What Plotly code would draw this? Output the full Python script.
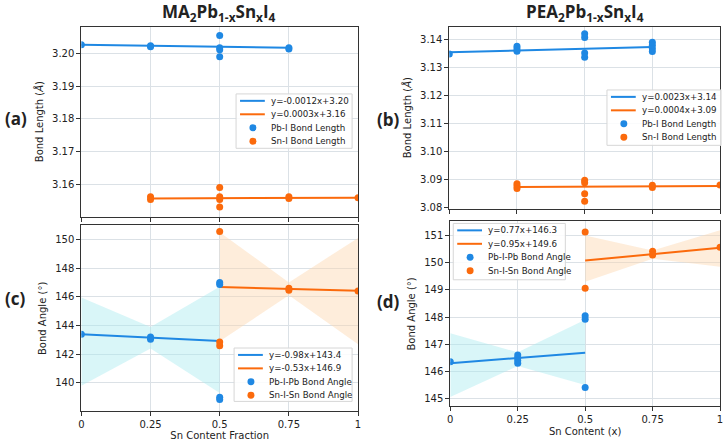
import plotly.graph_objects as go

W, H = 728, 441
BLUE = "#1f88e3"
ORANGE = "#fb6a0c"
BAND_BLUE = "rgba(170,235,240,0.45)"
BAND_ORANGE = "rgba(253,215,175,0.45)"

# ---- (a) MA bond lengths
a_pb_x = [0, 0.25, 0.25, 0.5, 0.5, 0.5, 0.5, 0.75, 0.75]
a_pb_y = [3.2025, 3.2022, 3.2019, 3.2053, 3.2016, 3.2010, 3.1989, 3.2016, 3.2012]
a_sn_x = [0.25, 0.25, 0.5, 0.5, 0.5, 0.5, 0.75, 0.75, 1]
a_sn_y = [3.1564, 3.1556, 3.1592, 3.1564, 3.1556, 3.1533, 3.1564, 3.1559, 3.1561]
a_fit_pb_x, a_fit_pb_y = [0, 0.75], [3.2025, 3.2016]
a_fit_sn_x, a_fit_sn_y = [0.25, 1], [3.1559, 3.1561]

# ---- (b) PEA bond lengths
b_pb_x = [0, 0.25, 0.25, 0.25, 0.5, 0.5, 0.5, 0.5, 0.75, 0.75, 0.75, 0.75]
b_pb_y = [3.1349, 3.1377, 3.1368, 3.1359, 3.1422, 3.1408, 3.1353, 3.1338, 3.1391, 3.1381, 3.1369, 3.1358]
b_sn_x = [0.25, 0.25, 0.25, 0.5, 0.5, 0.5, 0.5, 0.75, 0.75, 1]
b_sn_y = [3.0886, 3.0878, 3.0869, 3.0898, 3.0889, 3.0850, 3.0823, 3.0880, 3.0872, 3.0881]
b_fit_pb_x, b_fit_pb_y = [0, 0.75], [3.1356, 3.1374]
b_fit_sn_x, b_fit_sn_y = [0.25, 1], [3.0874, 3.0878]

# ---- (c) MA bond angles
c_pb_x = [0, 0.25, 0.25, 0.5, 0.5, 0.5, 0.5]
c_pb_y = [143.4, 143.2, 143.05, 147.0, 146.85, 139.0, 138.85]
c_sn_x = [0.5, 0.5, 0.5, 0.75, 0.75, 1]
c_sn_y = [150.55, 142.85, 142.6, 146.6, 146.45, 146.4]
c_fit_pb_x, c_fit_pb_y = [0, 0.5], [143.4, 142.92]
c_fit_sn_x, c_fit_sn_y = [0.5, 1], [146.68, 146.42]
c_band_pb_x = [0, 0.25, 0.5]
c_band_pb_hi = [145.95, 143.9, 146.7]
c_band_pb_lo = [139.8, 142.4, 139.3]
c_band_sn_x = [0.5, 0.75, 1]
c_band_sn_hi = [150.5, 147.0, 150.1]
c_band_sn_lo = [142.9, 146.1, 142.7]

# ---- (d) PEA bond angles
d_pb_x = [0, 0.25, 0.25, 0.25, 0.25, 0.5, 0.5, 0.5]
d_pb_y = [146.35, 146.6, 146.5, 146.4, 146.3, 148.05, 147.92, 145.4]
d_sn_x = [0.5, 0.5, 0.75, 0.75, 1]
d_sn_y = [151.13, 149.06, 150.42, 150.28, 150.57]
d_fit_pb_x, d_fit_pb_y = [0, 0.5], [146.3, 146.68]
d_fit_sn_x, d_fit_sn_y = [0.5, 1], [150.08, 150.55]
d_band_pb_x = [0, 0.25, 0.5]
d_band_pb_hi = [147.4, 146.7, 147.9]
d_band_pb_lo = [145.05, 146.2, 145.5]
d_band_sn_x = [0.5, 0.75, 1]
d_band_sn_hi = [151.0, 150.45, 151.2]
d_band_sn_lo = [149.3, 150.15, 149.85]

x_ticks = [0, 0.25, 0.5, 0.75, 1]
x_ticktext = ["0", "0.25", "0.5", "0.75", "1"]

panels = {
    "a": dict(xa="x", ya="y", box=(235, 95, 117, 55),
              fits=[("y=-0.0012x+3.20", a_fit_pb_x, a_fit_pb_y, BLUE), ("y=0.0003x+3.16", a_fit_sn_x, a_fit_sn_y, ORANGE)],
              pts=[("Pb-I Bond Length", a_pb_x, a_pb_y, BLUE), ("Sn-I Bond Length", a_sn_x, a_sn_y, ORANGE)],
              bands=[]),
    "b": dict(xa="x2", ya="y2", box=(609, 91, 115, 56),
              fits=[("y=0.0023x+3.14", b_fit_pb_x, b_fit_pb_y, BLUE), ("y=0.0004x+3.09", b_fit_sn_x, b_fit_sn_y, ORANGE)],
              pts=[("Pb-I Bond Length", b_pb_x, b_pb_y, BLUE), ("Sn-I Bond Length", b_sn_x, b_sn_y, ORANGE)],
              bands=[]),
    "c": dict(xa="x3", ya="y3", box=(233, 352, 119, 54),
              fits=[("y=-0.98x+143.4", c_fit_pb_x, c_fit_pb_y, BLUE), ("y=-0.53x+146.9", c_fit_sn_x, c_fit_sn_y, ORANGE)],
              pts=[("Pb-I-Pb Bond Angle", c_pb_x, c_pb_y, BLUE), ("Sn-I-Sn Bond Angle", c_sn_x, c_sn_y, ORANGE)],
              bands=[(c_band_pb_x, c_band_pb_hi, c_band_pb_lo, BAND_BLUE), (c_band_sn_x, c_band_sn_hi, c_band_sn_lo, BAND_ORANGE)]),
    "d": dict(xa="x4", ya="y4", box=(454, 226, 113, 57),
              fits=[("y=0.77x+146.3", d_fit_pb_x, d_fit_pb_y, BLUE), ("y=0.95x+149.6", d_fit_sn_x, d_fit_sn_y, ORANGE)],
              pts=[("Pb-I-Pb Bond Angle", d_pb_x, d_pb_y, BLUE), ("Sn-I-Sn Bond Angle", d_sn_x, d_sn_y, ORANGE)],
              bands=[(d_band_pb_x, d_band_pb_hi, d_band_pb_lo, BAND_BLUE), (d_band_sn_x, d_band_sn_hi, d_band_sn_lo, BAND_ORANGE)]),
}


def fx(px):
    return px / W


def fy(py):
    return 1 - py / H


fig = go.Figure()
for key, p in panels.items():
    # confidence bands first so they sit underneath
    for bx, hi, lo, col in p["bands"]:
        fig.add_trace(go.Scatter(x=bx + bx[::-1], y=hi + lo[::-1], fill="toself", fillcolor=col,
                                 line=dict(width=0), mode="lines", showlegend=False, hoverinfo="skip",
                                 xaxis=p["xa"], yaxis=p["ya"]))
    for name, lx, ly, col in p["fits"]:
        fig.add_trace(go.Scatter(x=lx, y=ly, mode="lines", name=name, line=dict(color=col, width=2),
                                 showlegend=False, xaxis=p["xa"], yaxis=p["ya"]))
    for name, sx, sy, col in p["pts"]:
        fig.add_trace(go.Scatter(x=sx, y=sy, mode="markers", name=name,
                                 marker=dict(color=col, size=7, line=dict(width=0)),
                                 showlegend=False, xaxis=p["xa"], yaxis=p["ya"]))

    # matplotlib-style legend box drawn by hand (plotly rows are too tall)
    L, T, BW, BH = p["box"]
    fig.add_shape(type="rect", xref="paper", yref="paper", x0=fx(L), x1=fx(L + BW), y0=fy(T + BH), y1=fy(T),
                  fillcolor="rgba(255,255,255,0.85)", line=dict(color="#d6d6d6", width=1), layer="above")
    entries = [(n, c, "line") for n, _, _, c in p["fits"]] + [(n, c, "dot") for n, _, _, c in p["pts"]]
    for i, (name, col, kind) in enumerate(entries):
        ry = T + 7 + i * 13.6
        if kind == "line":
            fig.add_shape(type="line", xref="paper", yref="paper", x0=fx(L + 4), x1=fx(L + 29),
                          y0=fy(ry), y1=fy(ry), line=dict(color=col, width=2), layer="above")
        else:
            fig.add_shape(type="circle", xref="paper", yref="paper", x0=fx(L + 13.5), x1=fx(L + 20.5),
                          y0=fy(ry + 3.5), y1=fy(ry - 3.5), fillcolor=col, line=dict(width=0), layer="above")
        fig.add_annotation(text=name, x=fx(L + 33), y=fy(ry), xref="paper", yref="paper", xanchor="left",
                           yanchor="middle", showarrow=False,
                           font=dict(family="DejaVu Sans", size=8.7, color="#222"))

tick_font = dict(family="DejaVu Sans", size=10, color="#222")
axis_common = dict(showline=True, linecolor="#333", linewidth=1, mirror=True, ticks="outside",
                   ticklen=4, tickcolor="#333", showgrid=True, gridcolor="#dbe1e6", gridwidth=1,
                   zeroline=False, tickfont=tick_font)
xcommon = dict(axis_common, range=[0, 1], tickvals=x_ticks, ticktext=x_ticktext)
title_font = dict(family="DejaVu Sans", size=10, color="#222")

fig.update_layout(
    width=W, height=H, margin=dict(l=0, r=0, t=0, b=0),
    paper_bgcolor="white", plot_bgcolor="white", showlegend=False,
    xaxis=dict(xcommon, domain=[fx(79), fx(358)], anchor="y", showticklabels=False),
    yaxis=dict(axis_common, domain=[fy(219), fy(27)], anchor="x", range=[3.1504, 3.208],
               tickvals=[3.16, 3.17, 3.18, 3.19, 3.20], tickformat=".2f",
               title=dict(text="Bond Length (<i>Å</i>)", font=title_font, standoff=6)),
    xaxis2=dict(xcommon, domain=[fx(450), fx(723)], anchor="y2", showticklabels=False),
    yaxis2=dict(axis_common, domain=[fy(211), fy(27)], anchor="x2", range=[3.0797, 3.1447],
                tickvals=[3.08, 3.09, 3.10, 3.11, 3.12, 3.13, 3.14], tickformat=".2f",
                title=dict(text="Bond Length (<i>Å</i>)", font=title_font, standoff=6)),
    xaxis3=dict(xcommon, domain=[fx(79), fx(358)], anchor="y3",
                title=dict(text="Sn Content Fraction", font=title_font, standoff=2)),
    yaxis3=dict(axis_common, domain=[fy(416), fy(228)], anchor="x3", range=[138.03, 150.97],
                tickvals=[140, 142, 144, 146, 148, 150],
                title=dict(text="Bond Angle (<i>°</i>)", font=title_font, standoff=6)),
    xaxis4=dict(xcommon, domain=[fx(451), fx(723)], anchor="y4",
                title=dict(text="Sn Content (x)", font=title_font, standoff=3)),
    yaxis4=dict(axis_common, domain=[fy(411), fy(224)], anchor="x4", range=[144.71, 151.52],
                tickvals=[145, 146, 147, 148, 149, 150, 151],
                title=dict(text="Bond Angle (<i>°</i>)", font=title_font, standoff=6)),
)

# titles and panel labels
head_font = dict(family="Open Sans", size=17, color="#222")
fig.add_annotation(text="<b>MA<sub>2</sub>Pb<sub>1-x</sub>Sn<sub>x</sub>I<sub>4</sub></b>", x=fx(218), y=fy(13),
                   xref="paper", yref="paper", xanchor="center", yanchor="middle", showarrow=False, font=head_font)
fig.add_annotation(text="<b>PEA<sub>2</sub>Pb<sub>1-x</sub>Sn<sub>x</sub>I<sub>4</sub></b>", x=fx(587), y=fy(13),
                   xref="paper", yref="paper", xanchor="center", yanchor="middle", showarrow=False, font=head_font)
lab_font = dict(family="Open Sans", size=17, color="#222")
for lab, lx, ly in [("(a)", 0, 120), ("(b)", 375, 121), ("(c)", 0, 302), ("(d)", 375, 305)]:
    fig.add_annotation(text="<b>" + lab + "</b>", x=fx(lx), y=fy(ly), xref="paper", yref="paper",
                       xanchor="left", yanchor="middle", showarrow=False, font=lab_font)

# drop the default 8px page margin so the figure fills the window; hide the modebar
fig.write_html("out.html", config={"displayModeBar": False},
               post_script="document.body.style.margin='0';")
